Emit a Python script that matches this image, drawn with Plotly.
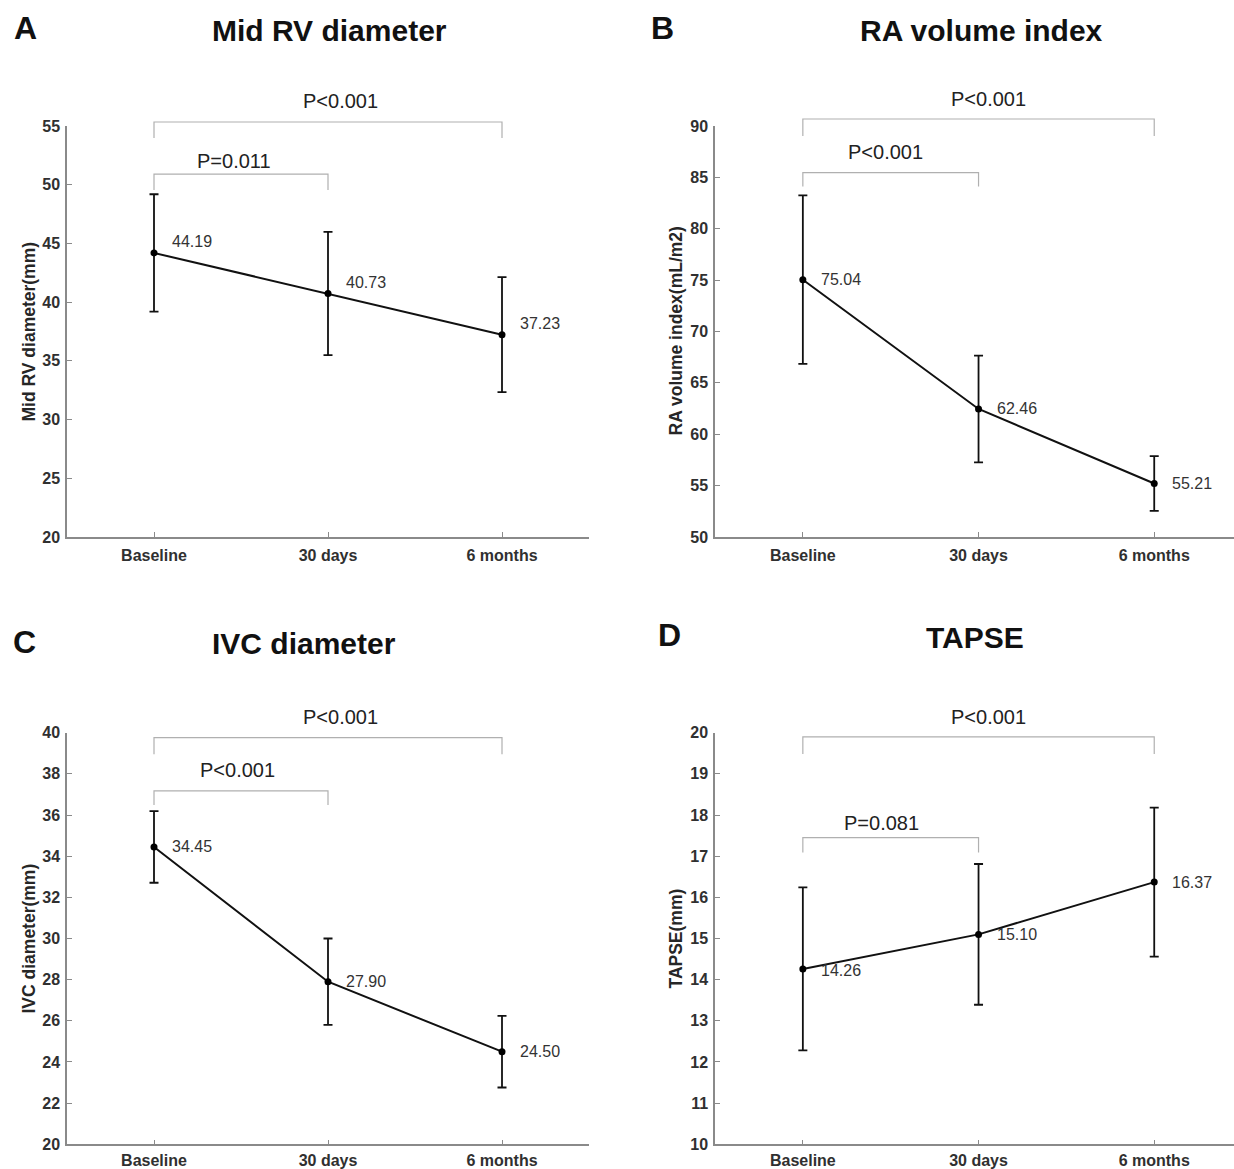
import plotly.graph_objects as go

# ---------------- data ----------------
categories = ["Baseline", "30 days", "6 months"]

mid_rv_mean = [44.19, 40.73, 37.23]
mid_rv_sd = [5.0, 5.25, 4.9]

ra_mean = [75.04, 62.46, 55.21]
ra_sd = [8.2, 5.2, 2.67]

ivc_mean = [34.45, 27.90, 24.50]
ivc_sd = [1.74, 2.1, 1.74]

tapse_mean = [14.26, 15.10, 16.37]
tapse_sd = [1.98, 1.71, 1.81]

p_short = ["P=0.011", "P<0.001", "P<0.001", "P=0.081"]   # baseline vs 30 days
p_long = ["P<0.001", "P<0.001", "P<0.001", "P<0.001"]    # baseline vs 6 months

titles = ["Mid RV diameter", "RA volume index", "IVC diameter", "TAPSE"]
letters = ["A", "B", "C", "D"]
ytitles = ["Mid RV diameter(mm)", "RA volume index(mL/m2)", "IVC diameter(mm)", "TAPSE(mm)"]

# ---------------- layout helpers ----------------
W, H = 1234, 1169
FONT = "Arial, Liberation Sans, Helvetica, sans-serif"
AXIS_GREY = "#8a8a8a"
TEXT = "#262626"


def px(x):
    return x / W


def py(y):
    return 1 - y / H


panels = [
    dict(mean=mid_rv_mean, sd=mid_rv_sd, xdom=(67, 589), ydom=(126, 537), xr=(-0.5, 2.5),
         yr=(20, 55), dtick=5, yshift=[11, 11, 11], standoff=3,
         up=(55.34, 53.98, 1.07, 57.13), lo=(50.91, 49.55, 0.46, 52.02),
         title=(330, 30), letter=(25, 28), ytitle_x=28),
    dict(mean=ra_mean, sd=ra_sd, xdom=(715, 1234), ydom=(126, 537), xr=(-0.5, 2.454),
         yr=(50, 90), dtick=5, yshift=[0, 0, 0], standoff=3,
         up=(90.68, 89.03, 1.055, 92.63), lo=(85.46, 84.1, 0.47, 87.5),
         title=(981, 30), letter=(662, 28), ytitle_x=675),
    dict(mean=ivc_mean, sd=ivc_sd, xdom=(67, 589), ydom=(732.7, 1144.3), xr=(-0.5, 2.5),
         yr=(20, 40), dtick=2, yshift=[0, 0, 0], standoff=1,
         up=(39.76, 38.95, 1.07, 40.75), lo=(37.17, 36.49, 0.48, 38.19),
         title=(304, 643), letter=(24, 642), ytitle_x=28),
    dict(mean=tapse_mean, sd=tapse_sd, xdom=(715, 1234), ydom=(732.7, 1144.3), xr=(-0.5, 2.454),
         yr=(10, 20), dtick=1, yshift=[-2, 0, 0], standoff=1,
         up=(19.90, 19.48, 1.055, 20.39), lo=(17.45, 17.09, 0.45, 17.80),
         title=(975, 637), letter=(669, 635), ytitle_x=675),
]

fig = go.Figure()
layout = dict(
    width=W, height=H, margin=dict(l=0, r=0, t=0, b=0, pad=0, autoexpand=False),
    paper_bgcolor="white", plot_bgcolor="white", showlegend=False,
    font=dict(family=FONT, color=TEXT),
)
annotations = []
shapes = []

for k, p in enumerate(panels):
    n = "" if k == 0 else str(k + 1)
    xa, ya = "x" + n, "y" + n
    fig.add_trace(go.Scatter(
        x=categories, y=p["mean"], xaxis=xa, yaxis=ya, mode="lines+markers",
        line=dict(color="#111111", width=2),
        marker=dict(color="#000000", size=7),
        error_y=dict(type="data", array=p["sd"], visible=True, color="#111111",
                     thickness=1.8, width=4.5),
        cliponaxis=False, hoverinfo="x+y",
    ))
    common_axis = dict(showline=True, linecolor=AXIS_GREY, linewidth=1.5, ticks="inside",
                       ticklen=5, tickcolor=AXIS_GREY, tickwidth=1.2, showgrid=False,
                       zeroline=False, mirror=False, automargin=False,
                       tickfont=dict(family=FONT, size=16, color="#303030", weight="bold"))
    layout["xaxis" + n] = dict(common_axis, domain=[px(p["xdom"][0]), px(p["xdom"][1])],
                               anchor=ya, type="category", categoryorder="array",
                               categoryarray=categories, range=list(p["xr"]),
                               ticklabelstandoff=p["standoff"])
    layout["yaxis" + n] = dict(common_axis, domain=[py(p["ydom"][1]), py(p["ydom"][0])],
                               anchor=xa, range=list(p["yr"]), dtick=p["dtick"],
                               tick0=p["yr"][0], ticklabelstandoff=2)

    # value labels
    for i, v in enumerate(p["mean"]):
        annotations.append(dict(x=categories[i], y=v, xref=xa, yref=ya, text=f"{v:.2f}",
                                showarrow=False, xanchor="left", yanchor="middle",
                                xshift=16, yshift=p["yshift"][i],
                                font=dict(family=FONT, size=16, color="#333333")))

    # brackets (domain coordinates so they may sit above the plot area)
    x0r, x1r = p["xr"]
    y0r, y1r = p["yr"]

    def xd(i):
        return (i - x0r) / (x1r - x0r)

    def yd(v):
        return (v - y0r) / (y1r - y0r)

    for (top, leg, tx, ty), (i0, i1), txt in [
        (p["up"], (0, 2), p_long[k]),
        (p["lo"], (0, 1), p_short[k]),
    ]:
        path = (f"M {xd(i0)} {yd(leg)} L {xd(i0)} {yd(top)} "
                f"L {xd(i1)} {yd(top)} L {xd(i1)} {yd(leg)}")
        shapes.append(dict(type="path", path=path, xref=xa + " domain", yref=ya + " domain",
                           line=dict(color="#b0b0b0", width=1.2)))
        annotations.append(dict(x=xd(tx), y=yd(ty), xref=xa + " domain", yref=ya + " domain",
                                text=txt, showarrow=False, xanchor="center", yanchor="middle",
                                font=dict(family=FONT, size=20, color="#222222")))

    # titles, letters, y titles
    annotations.append(dict(x=px(p["title"][0]), y=py(p["title"][1]), xref="paper", yref="paper",
                            text=f"<b>{titles[k]}</b>", showarrow=False, xanchor="center",
                            yanchor="middle", font=dict(family=FONT, size=30, color="#111111")))
    annotations.append(dict(x=px(p["letter"][0]), y=py(p["letter"][1]), xref="paper", yref="paper",
                            text=f"<b>{letters[k]}</b>", showarrow=False, xanchor="center",
                            yanchor="middle", font=dict(family=FONT, size=32, color="#111111")))
    annotations.append(dict(x=px(p["ytitle_x"]), y=py((p["ydom"][0] + p["ydom"][1]) / 2),
                            xref="paper", yref="paper", text=f"<b>{ytitles[k]}</b>",
                            showarrow=False, textangle=-90, xanchor="center", yanchor="middle",
                            font=dict(family=FONT, size=17.5, color="#262626")))

layout["annotations"] = annotations
layout["shapes"] = shapes
fig.update_layout(**layout)

fig.write_html("out.html", config={"displayModeBar": False},
               post_script="document.body.style.margin='0';")
